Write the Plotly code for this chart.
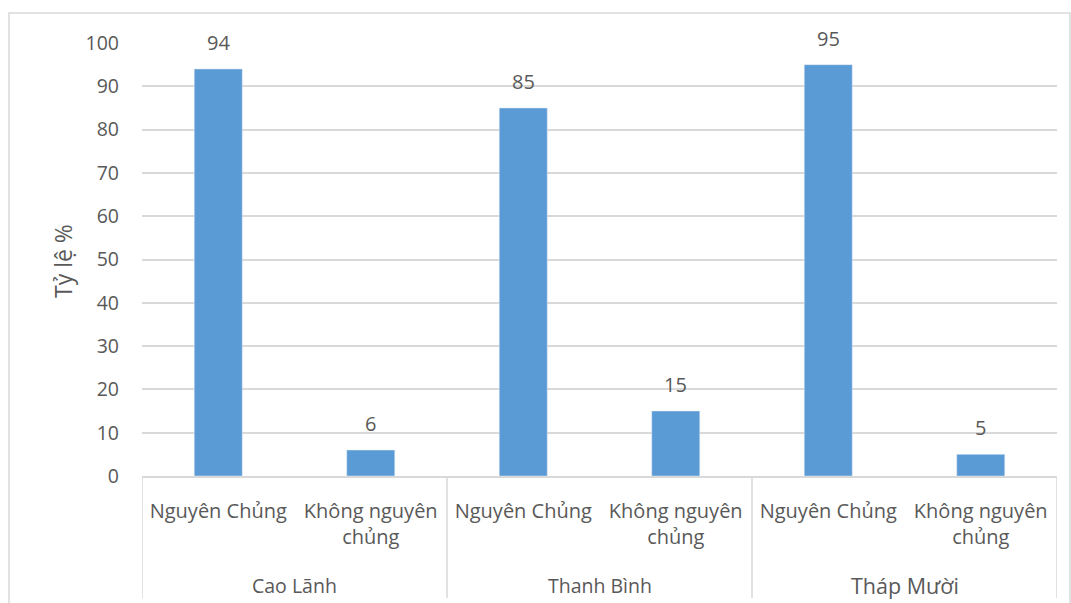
import plotly.graph_objects as go

groups = ["Cao Lãnh", "Thanh Bình", "Tháp Mười"]
subcats = ["Nguyên Chủng", "Không nguyên<br>chủng"]
values = [94, 6, 85, 15, 95, 5]
y_ticks = [0, 10, 20, 30, 40, 50, 60, 70, 80, 90, 100]
y_title = "Tỷ lệ %"

W, H = 1071, 603
L, R, T, B = 142, 14, 43, 127
pw, ph = W - L - R, H - T - B

def px_x(px):
    return (px - L) / pw

def px_y(py):
    return (H - B - py) / ph

TXT = "#595959"
GRID = "#d9d9d9"
FONT = "Open Sans"

xs = list(range(len(values)))
ticktext = [subcats[i % 2] for i in xs]

fig = go.Figure()
fig.add_trace(go.Bar(x=xs, y=values, marker_color="#5B9BD5", width=0.315,
                     hoverinfo="skip"))

annotations = []
for x, v in zip(xs, values):
    annotations.append(dict(x=x, y=v, xref="x", yref="y", text=str(v),
                            showarrow=False, yanchor="bottom", yshift=11,
                            font=dict(family=FONT, size=20, color=TXT)))
for gi, g in enumerate(groups):
    annotations.append(dict(x=gi * 2 + 0.5, y=px_y(585), xref="x", yref="paper",
                            text=g, showarrow=False, yanchor="middle",
                            font=dict(family=FONT, size=21.5 if gi == 2 else 19.5, color=TXT)))
annotations.append(dict(x=px_x(45), y=px_y(261), xref="paper", yref="paper",
                        text=y_title, textangle=-90, showarrow=False,
                        font=dict(family=FONT, size=23, color=TXT)))

shapes = []
for gi in range(len(groups) + 1):
    shapes.append(dict(type="line", xref="x", yref="paper",
                       x0=gi * 2 - 0.5, x1=gi * 2 - 0.5, y0=0, y1=px_y(598),
                       line=dict(color=GRID, width=1.5)))
shapes.append(dict(type="rect", xref="paper", yref="paper",
                   x0=px_x(9), x1=px_x(1070), y0=px_y(620), y1=px_y(13),
                   line=dict(color=GRID, width=1.5), layer="below"))

fig.update_layout(
    width=W, height=H,
    margin=dict(l=L, r=R, t=T, b=B),
    paper_bgcolor="white", plot_bgcolor="white",
    showlegend=False,
    annotations=annotations, shapes=shapes,
    font=dict(family=FONT, color=TXT),
    xaxis=dict(range=[-0.5, 5.5], tickvals=xs, ticktext=ticktext,
               tickfont=dict(family=FONT, size=20, color=TXT),
               showgrid=False, zeroline=False, showline=True,
               linecolor=GRID, linewidth=1.5, ticks="",
               ticklabelstandoff=16, fixedrange=True),
    yaxis=dict(range=[0, 100], tickvals=y_ticks,
               tickfont=dict(family=FONT, size=19.5, color=TXT),
               showgrid=True, gridcolor=GRID, gridwidth=1.5,
               zeroline=False, showline=False, ticks="",
               ticklabelstandoff=22, fixedrange=True),
)

fig.write_html("out.html")
